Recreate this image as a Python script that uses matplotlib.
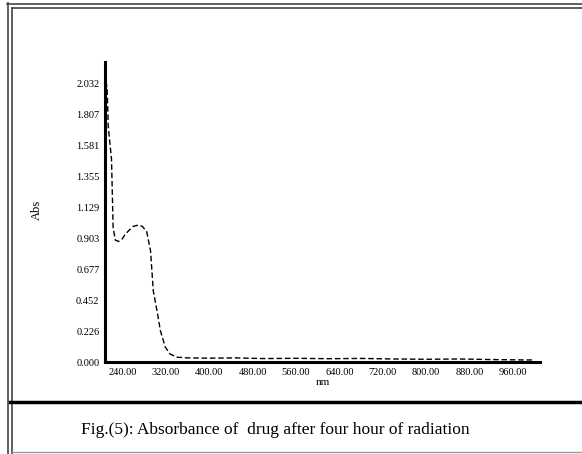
import matplotlib
matplotlib.use("Agg")
import matplotlib.pyplot as plt
from matplotlib.lines import Line2D

# spectrum
wavelength = [210, 212, 214, 217, 220, 223, 227, 233, 240, 245, 252, 260, 270, 277,
              285, 292, 297, 305, 310, 319, 328, 341, 360, 400, 450, 500, 560,
              620, 680, 740, 800, 860, 920, 980, 1000]
absorbance = [2.05, 1.99, 1.72, 1.60, 1.48, 0.98, 0.89, 0.88, 0.90, 0.93, 0.96, 0.99,
              1.00, 0.99, 0.95, 0.81, 0.52, 0.35, 0.23, 0.11, 0.058, 0.035, 0.03,
              0.028, 0.03, 0.025, 0.027, 0.024, 0.026, 0.022, 0.02, 0.022, 0.018,
              0.015, 0.015]

x_ticks = [240, 320, 400, 480, 560, 640, 720, 800, 880, 960]
y_ticks = [0.000, 0.226, 0.452, 0.677, 0.903, 1.129, 1.355, 1.581, 1.807, 2.032]

plt.rcParams['font.family'] = ['Liberation Serif', 'DejaVu Serif']

fig = plt.figure(figsize=(5.82, 4.54), dpi=100)
W, H = 582, 454
ax = fig.add_axes([105 / W, 1 - 362 / H, 435 / W, 300 / H])

ax.plot(wavelength, absorbance, color='black', linewidth=1.0,
        linestyle=(0, (4, 2)))

ax.set_xlim(208, 1010)
ax.set_ylim(0, 2.19)
ax.set_xticks(x_ticks)
ax.set_xticklabels([f"{v:.2f}" for v in x_ticks], fontsize=7.5)
ax.set_yticks(y_ticks)
ax.set_yticklabels([f"{v:.3f}" for v in y_ticks], fontsize=7.5)
ax.tick_params(length=0, pad=4)

for side in ['top', 'right']:
    ax.spines[side].set_visible(False)
for side in ['left', 'bottom']:
    ax.spines[side].set_linewidth(2.2)

ax.set_xlabel('nm', fontsize=8, labelpad=1)
ax.set_ylabel('Abs', fontsize=9)
ax.yaxis.set_label_coords((43 - 105) / 435, (362 - 210) / 300)

# frame around the figure
def hline(y, x0, x1, lw, color):
    fig.add_artist(Line2D([x0 / W, x1 / W], [1 - y / H, 1 - y / H],
                          transform=fig.transFigure, color=color, linewidth=lw))

def vline(x, y0, y1, lw, color):
    fig.add_artist(Line2D([x / W, x / W], [1 - y0 / H, 1 - y1 / H],
                          transform=fig.transFigure, color=color, linewidth=lw))

hline(3.5, 7, W, 1.2, '#444444')
hline(8, 12, W, 1.2, '#444444')
vline(7.5, 3, 454, 1.2, '#444444')
vline(12, 8, 454, 1.2, '#444444')
hline(402, 10, W, 2.5, 'black')
hline(452, 12, W, 1.0, '#999999')

fig.text(275 / W, 1 - 430 / H,
         'Fig.(5): Absorbance of  drug after four hour of radiation',
         ha='center', va='center', fontsize=12.5)

fig.savefig('out.png', dpi=100)
